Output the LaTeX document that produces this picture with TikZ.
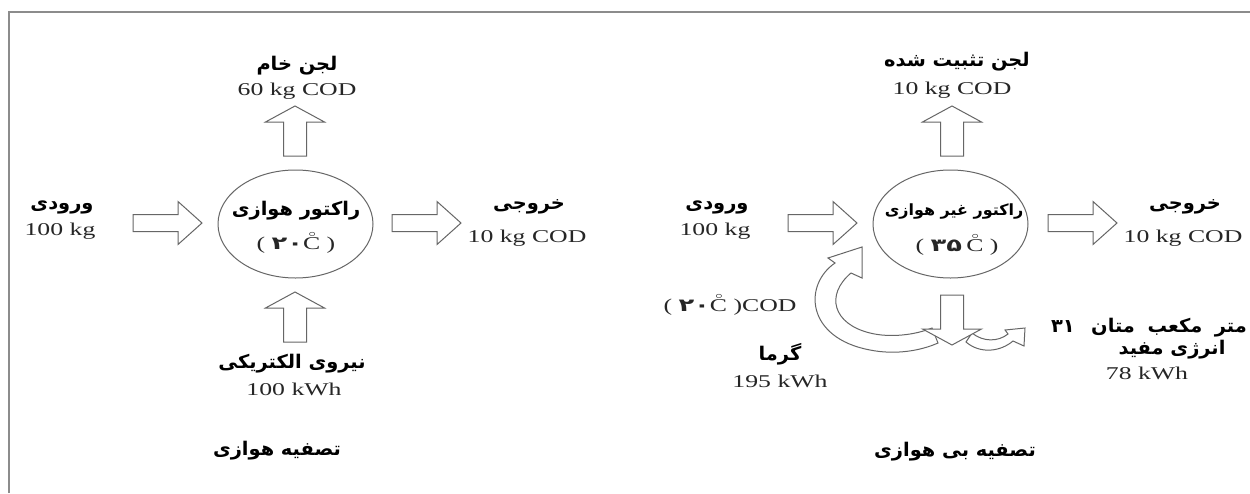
\documentclass[tikz,border=0pt]{standalone}
\usepackage{fontspec}
\setmainfont{Liberation Serif}
\newfontfamily\farsi[Script=Arabic]{DejaVu Sans}
\TeXXeTstate=1
\usetikzlibrary{shapes.geometric}

% Persian text (right to left) and Persian digits
\newcommand\fa[1]{\beginR #1\endR}
\newcommand\fd[1]{{\farsi\bfseries #1}}
% C with a small ring above for degrees Celsius
\newcommand\dgC{\leavevmode\rlap{\raisebox{0.72em}{\kern0.18em\fontsize{5}{5}\selectfont$\circ$}}C}

\begin{document}
\begin{tikzpicture}[x=0.6pt,y=-0.6pt,
  strk/.style={draw=black!60, line width=0.6pt},
  blk/.style={strk, fill=white, line join=miter},
  frame/.style={draw=black!45, line width=1.2pt},
  reactor/.style={ellipse, strk, minimum width=93pt, minimum height=64.8pt, inner sep=0},
  lat/.style={font=\fontsize{10.8}{13}\selectfont, text=black!85, inner sep=0, xscale=1.43},
  fat/.style={font=\farsi\bfseries\fontsize{11.3}{13}\selectfont, inner sep=0, xscale=1.03},
  fasmall/.style={fat, font=\farsi\bfseries\fontsize{9.3}{11}\selectfont},
  harrow/.pic={\path[blk] (0,-8.5) -- (45,-8.5) -- (45,-21.5) -- (69,0) -- (45,21.5) -- (45,8.5) -- (0,8.5) -- cycle;},
  varrow/.pic={\path[blk] (-11.5,0) -- (-11.5,-34) -- (-29.5,-34) -- (0,-50) -- (29.5,-34) -- (11.5,-34) -- (11.5,0) -- cycle;},
]
\useasboundingbox (0,0) rectangle (1250,493);
\path[fill=white] (0,0) rectangle (1250,493);
\draw[frame] (9,493) -- (9,12) -- (1250,12);

% ---------------- aerobic treatment ----------------
\node[reactor] (rA) at (295.5,224) {};
\node[fat] (rAt) at (296,211) {\fa{راکتور هوازی}};
\node[lat] (rAc) at (296,243) {(\ \fd{۲۰}\dgC\ )};

\pic (upA) at (295,156) {varrow};
\node[fat] (sludgeA) at (297,66) {\fa{لجن خام}};
\node[lat] (sludgeAv) at (297,91) {60 kg COD};

\pic (powA) at (295,342) {varrow};
\node[fat] (elec) at (292,364) {\fa{نیروی الکتریکی}};
\node[lat] (elecv) at (294,389) {100 kWh};

\pic (inA) at (133,223) {harrow};
\node[fat] (inAt) at (62,207) {\fa{ورودی}};
\node[lat] (inAv) at (60,231) {100 kg};

\pic (outA) at (392,223) {harrow};
\node[fat] (outAt) at (529,207) {\fa{خروجی}};
\node[lat] (outAv) at (527,238) {10 kg COD};

\node[fat] (titleA) at (277,451) {\fa{تصفیه هوازی}};

% ---------------- anaerobic treatment ----------------
\node[reactor] (rB) at (950.5,224) {};
\node[fasmall] (rBt) at (954,211) {\fa{راکتور غیر هوازی}};
\node[lat] (rBc) at (957,245) {(\ \fd{۳۵}\,\dgC\ )};

\pic (upB) at (952,156) {varrow};
\node[fat] (sludgeB) at (957,62) {\fa{لجن تثبیت شده}};
\node[lat] (sludgeBv) at (952,90) {10 kg COD};

\pic (inB) at (788,223) {harrow};
\node[fat] (inBt) at (717,207) {\fa{ورودی}};
\node[lat] (inBv) at (715,231) {100 kg};

\pic (outB) at (1048,223) {harrow};
\node[fat] (outBt) at (1185,207) {\fa{خروجی}};
\node[lat] (outBv) at (1183,238) {10 kg COD};

% heat returned to the reactor
\path[blk] (835,263) .. controls (803,285) and (806,338) .. (870,350)
  .. controls (895,355) and (920,351) .. (938,343) -- (932,328)
  .. controls (915,335) and (890,338) .. (870,333)
  .. controls (833,324) and (825,295) .. (851,273)
  -- (862,278) -- (862,247) -- (828,258) -- cycle;
% useful energy
\path[blk] (966,342) .. controls (980,354) and (1000,352) .. (1013,341)
  -- (1024,346) -- (1025,328) -- (1005,330) -- (1008,334)
  .. controls (998,342) and (983,342) .. (972,333) -- cycle;
% gas leaving the reactor
\pic[rotate=180] (downB) at (952,295) {varrow};

\node[lat] (codB) at (730,305) {(\ \fd{۲۰}\dgC\ )COD};
\node[fat] (heat) at (780,354) {\fa{گرما}};
\node[lat] (heatv) at (780,381) {195 kWh};

\node[fat] (meth) at (1149,328) {\fa{متر\hspace{0.3em} مکعب\hspace{0.3em} متان\hspace{0.5em} \beginL۳۱\endL}};
\node[fat] (useful) at (1172,350) {\fa{انرژی مفید}};
\node[lat] (usefulv) at (1147,373) {78 kWh};

\node[fat] (titleB) at (955,452) {\fa{تصفیه بی هوازی}};
\end{tikzpicture}
\end{document}
